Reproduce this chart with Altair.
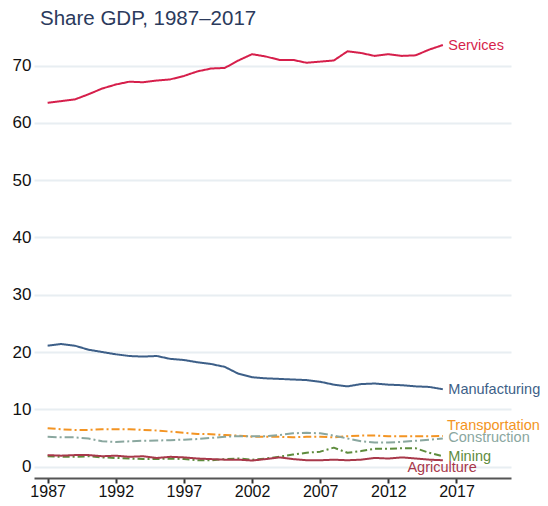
import altair as alt
import pandas as pd

years = list(range(1987, 2017))

services = [63.5, 63.8, 64.1, 65.0, 66.0, 66.7, 67.2, 67.1, 67.4, 67.6,
            68.2, 69.0, 69.5, 69.6, 70.9, 72.0, 71.6, 71.0, 71.0, 70.5,
            70.7, 70.9, 72.5, 72.2, 71.7, 72.0, 71.7, 71.8, 72.8, 73.6]
manufacturing = [21.1, 21.4, 21.1, 20.4, 20.0, 19.6, 19.3, 19.2, 19.3, 18.8,
                 18.6, 18.2, 17.9, 17.4, 16.2, 15.6, 15.4, 15.3, 15.2, 15.1,
                 14.8, 14.3, 14.0, 14.4, 14.5, 14.3, 14.2, 14.0, 13.9, 13.5]
transportation = [6.7, 6.5, 6.4, 6.4, 6.5, 6.5, 6.5, 6.4, 6.3, 6.1,
                  5.9, 5.7, 5.65, 5.5, 5.4, 5.2, 5.2, 5.2, 5.1, 5.2,
                  5.2, 5.1, 5.3, 5.4, 5.4, 5.3, 5.3, 5.3, 5.3, 5.35]
construction = [5.2, 5.1, 5.1, 4.9, 4.4, 4.3, 4.4, 4.5, 4.55, 4.6,
                4.7, 4.8, 5.0, 5.2, 5.3, 5.3, 5.3, 5.5, 5.8, 5.9,
                5.8, 5.4, 4.9, 4.4, 4.2, 4.2, 4.3, 4.5, 4.7, 4.9]
mining = [1.8, 1.7, 1.7, 1.8, 1.6, 1.5, 1.4, 1.3, 1.3, 1.4,
          1.3, 1.1, 1.1, 1.3, 1.4, 1.2, 1.4, 1.7, 2.1, 2.4,
          2.6, 3.3, 2.4, 2.7, 3.1, 3.1, 3.2, 3.2, 2.4, 1.8]
agriculture = [2.0, 1.9, 2.0, 2.0, 1.8, 1.9, 1.7, 1.8, 1.5, 1.7,
               1.6, 1.4, 1.3, 1.2, 1.2, 1.05, 1.3, 1.6, 1.3, 1.1,
               1.1, 1.2, 1.1, 1.2, 1.5, 1.4, 1.6, 1.4, 1.2, 1.1]

series_names = ["Services", "Manufacturing", "Transportation",
                "Construction", "Mining", "Agriculture"]
series_values = [services, manufacturing, transportation,
                 construction, mining, agriculture]
colors = ["#d61f4b", "#3d5f88", "#f39423", "#8aa79f", "#5e8c3d", "#a8384a"]
dashes = [[1, 0], [1, 0], [8, 3, 2, 3], [9, 3, 2, 3], [7, 3, 2, 3], [1, 0]]

label_x = [2016.4, 2016.4, 2016.3, 2016.4, 2016.4, 2013.4]
label_y = [73.5, 13.4, 7.0, 5.0, 1.6, -0.2]

rows = []
for name, vals in zip(series_names, series_values):
    for yr, v in zip(years, vals):
        rows.append({"year": yr, "value": v, "series": name})
df = pd.DataFrame(rows)
labels = pd.DataFrame({"series": series_names, "year": label_x, "value": label_y})

xscale = alt.Scale(domain=[1986, 2021], nice=False, zero=False)
yscale = alt.Scale(domain=[-2, 75], nice=False, zero=False)
cscale = alt.Scale(domain=series_names, range=colors)
dscale = alt.Scale(domain=series_names, range=dashes)

lines = alt.Chart(df).mark_line(strokeWidth=2, strokeJoin="round").encode(
    x=alt.X("year:Q", scale=xscale, title=None,
            axis=alt.Axis(values=[1987, 1992, 1997, 2002, 2007, 2012, 2017],
                          format="d", grid=False, domain=True, domainColor="#555555",
                          domainWidth=2, ticks=True, tickColor="#333333", tickWidth=2,
                          tickSize=5, labelFontSize=16, labelColor="#111111",
                          labelPadding=0)),
    y=alt.Y("value:Q", scale=yscale, title=None,
            axis=alt.Axis(values=[0, 10, 20, 30, 40, 50, 60, 70], grid=True,
                          gridColor="#e8eef2", gridWidth=2, domain=False, ticks=False,
                          labelFontSize=17, labelColor="#111111", labelPadding=3)),
    color=alt.Color("series:N", scale=cscale, legend=None),
    strokeDash=alt.StrokeDash("series:N", scale=dscale, legend=None),
    detail="series:N",
)

text = alt.Chart(labels).mark_text(align="left", baseline="middle", fontSize=14.5,
                                   font="Liberation Sans").encode(
    x=alt.X("year:Q", scale=xscale),
    y=alt.Y("value:Q", scale=yscale),
    text="series:N",
    color=alt.Color("series:N", scale=cscale, legend=None),
)

chart = alt.layer(lines, text).properties(
    width=477, height=441,
    autosize=alt.AutoSizeParams(type="none"),
    padding={"left": 26, "top": 29, "right": 29, "bottom": 20},
    title=alt.Title("Share GDP, 1987\u20132017", anchor="start", frame="group",
                    dx=6, offset=8, fontSize=20.5, fontWeight="normal",
                    color="#2b3a5c", font="Liberation Sans"),
).configure(
    font="Liberation Sans",
    view=alt.ViewConfig(strokeWidth=0, stroke="transparent"),
)

chart.save("out.html", embed_options={"renderer": "svg", "actions": False})
